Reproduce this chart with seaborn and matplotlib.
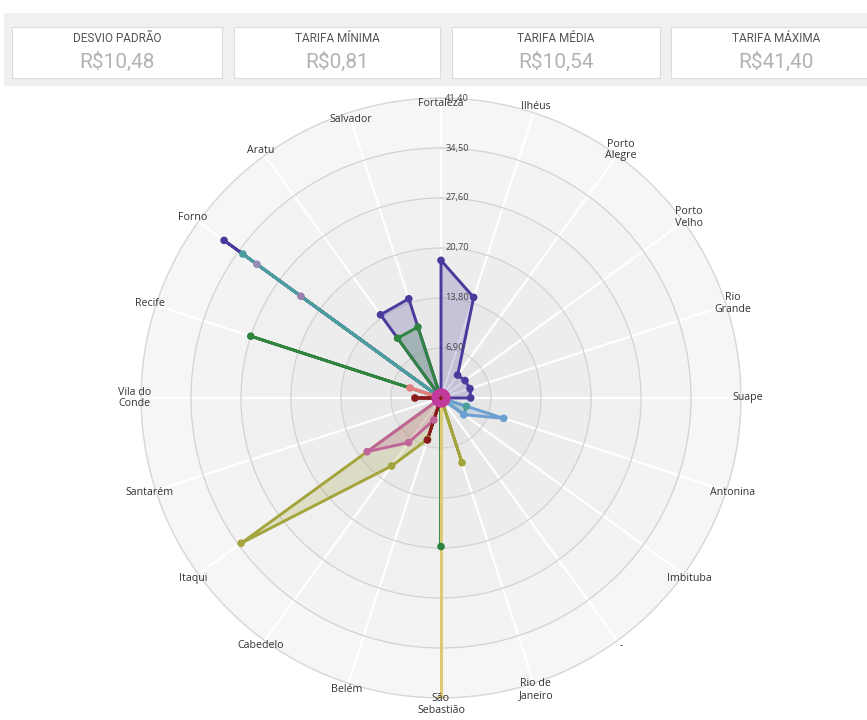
import numpy as np
import pandas as pd
import matplotlib
matplotlib.use("Agg")
import matplotlib.pyplot as plt
from matplotlib.patches import Rectangle
import seaborn as sns

sns.set_theme(style="white")
plt.rcParams["font.family"] = ["Open Sans", "DejaVu Sans"]

# portos (eixos do radar), no sentido horario a partir do topo
categories = ["Fortaleza", "Ilhéus", "Porto\nAlegre", "Porto\nVelho", "Rio\nGrande", "Suape",
              "Antonina", "Imbituba", "-", "Rio de\nJaneiro", "São\nSebastião", "Belém",
              "Cabedelo", "Itaqui", "Santarém", "Vila do\nConde", "Recife", "Forno",
              "Aratu", "Salvador"]

# tarifas (R$), uma lista por serie
s_olive = [0, 0, 0, 0, 0, 0, 0, 0, 0, 9.4, 0, 6.0, 11.6, 34.1, 0, 0, 0, 0, 0, 0]
s_pink = [0, 0, 0, 0, 0, 0, 0, 0, 0, 0, 0, 3.2, 7.6, 12.6, 0, 0, 0, 0, 0, 0]
s_mauve = [0, 0, 0, 0, 0, 0, 0, 0, 0, 0, 0, 0, 0, 0, 0, 0, 0, 31.4, 0, 0]
s_mauve2 = [0, 0, 0, 0, 0, 0, 0, 0, 0, 0, 0, 0, 0, 0, 0, 0, 0, 23.9, 0, 0]
s_indigo_forno = [0, 0, 0, 0, 0, 0, 0, 0, 0, 0, 0, 0, 0, 0, 0, 0, 0, 37.0, 0, 0]
s_teal = [0, 0, 0, 0, 0, 0, 3.7, 3.9, 0, 0, 0, 0, 0, 0, 0, 0, 0, 33.8, 0, 0]
s_lightblue = [0, 0, 0, 0, 0, 0, 9.1, 3.9, 0, 0, 0, 0, 0, 0, 0, 0, 0, 0, 0, 0]
s_indigo_norte = [19.0, 14.6, 3.9, 4.1, 4.2, 4.1, 0, 0, 0, 0, 0, 0, 0, 0, 0, 0, 0, 0, 0, 0]
s_indigo_bahia = [0, 0, 0, 0, 0, 0, 0, 0, 0, 0, 0, 0, 0, 0, 0, 0, 0, 0, 14.2, 14.4]
s_green = [0, 0, 0, 0, 0, 0, 0, 0, 0, 0, 20.5, 0, 0, 0, 0, 0, 27.6, 0, 10.2, 10.3]
s_khaki = [0, 0, 0, 0, 0, 0, 0, 0, 0, 0, 41.40, 0, 0, 0, 0, 0, 0, 0, 0, 0]
s_salmon = [0, 0, 0, 0, 0, 0, 0, 0, 0, 0, 0, 0, 0, 0, 0, 0, 4.5, 0, 0, 0]
s_maroon = [0, 0, 0, 0, 0, 0, 0, 0, 0, 0, 0, 6.1, 0, 0, 0, 3.6, 0, 0, 0, 0]
s_magenta = [0.81, 0.81, 0.81, 0.81, 0.81, 0.81, 0.81, 0.81, 0.81, 0.81,
             0.81, 0.81, 0.81, 0.81, 0.81, 0.81, 0.81, 0.81, 0.81, 0.81]

# cartoes do topo
kpi_titles = ["DESVIO PADRÃO", "TARIFA MÍNIMA", "TARIFA MÉDIA", "TARIFA MÁXIMA"]
kpi_values = ["R$10,48", "R$0,81", "R$10,54", "R$41,40"]

ring_values = [6.90, 13.80, 20.70, 27.60, 34.50, 41.40]
ring_labels = ["6,90", "13,80", "20,70", "27,60", "34,50", "41,40"]

series = {
    "olive": s_olive, "pink": s_pink, "mauve": s_mauve, "mauve2": s_mauve2,
    "indigo_forno": s_indigo_forno, "teal": s_teal, "lightblue": s_lightblue,
    "indigo_norte": s_indigo_norte, "indigo_bahia": s_indigo_bahia, "green": s_green,
    "khaki": s_khaki, "salmon": s_salmon, "maroon": s_maroon, "magenta": s_magenta,
}
palette = {
    "khaki": "#dccb72", "olive": "#a4a43c", "pink": "#c0659a", "mauve": "#9a88b6",
    "mauve2": "#9a7fae", "indigo_forno": "#4b3a9c", "teal": "#4a9e9c",
    "lightblue": "#6e9fd2", "indigo_norte": "#4b3a9c", "indigo_bahia": "#4b3a9c",
    "green": "#2f8440", "salmon": "#e07d7d", "maroon": "#8a1c1c", "magenta": "#c23b9c",
}

theta = np.linspace(0, 2 * np.pi, len(categories), endpoint=False)

rows = []
for name, vals in series.items():
    for t, v in zip(list(theta) + [theta[0]], list(vals) + [vals[0]]):
        rows.append({"serie": name, "theta": t, "valor": v})
df = pd.DataFrame(rows)
pts = df[df["valor"] > 0].drop_duplicates()

fig = plt.figure(figsize=(8.67, 7.2), dpi=100)

# faixa dos cartoes
fig.patches.append(Rectangle((0.005, 0.8806), 0.995, 0.1014, transform=fig.transFigure,
                             facecolor="#f0f0f0", edgecolor="none", zorder=0))
card_x = [12, 234, 452, 671]
card_w = [210, 206, 208, 210]
for x0, w, title, val in zip(card_x, card_w, kpi_titles, kpi_values):
    fig.patches.append(Rectangle((x0 / 867, 0.8917), w / 867, 0.0708, transform=fig.transFigure,
                                 facecolor="white", edgecolor="#dcdcdc", lw=0.8, zorder=1))
    cx = (x0 + w / 2) / 867
    fig.text(cx, 1 - 38 / 720, title, ha="center", va="center", fontsize=8.5,
             color="#555555", family=["Roboto", "DejaVu Sans"], zorder=2)
    fig.text(cx, 1 - 62 / 720, val, ha="center", va="center", fontsize=15,
             color="#b3b3b3", family=["Roboto", "DejaVu Sans"], zorder=2)

ax = fig.add_axes([141 / 867, 22 / 720, 600 / 867, 600 / 720], projection="polar")
ax.set_theta_zero_location("N")
ax.set_theta_direction(-1)
ax.set_ylim(0, 41.4)
ax.set_facecolor("white")

# faixas concentricas de fundo
band_colors = ["#e5e5e5", "#e9e9e9", "#ededed", "#f0f0f0", "#f3f3f3", "#f6f6f6"]
lo = 0
for r, c in zip(ring_values, band_colors):
    ax.bar(0, r - lo, width=2 * np.pi, bottom=lo, color=c, edgecolor="none", zorder=0.1)
    lo = r

ax.set_xticks(theta)
ax.set_xticklabels([])
ax.set_yticks(ring_values)
ax.set_yticklabels([])
ax.set_axisbelow(True)
ax.xaxis.grid(True, color="white", lw=1.6)
ax.yaxis.grid(True, color="#d2d2d2", lw=0.9)
ax.spines["polar"].set_color("#d8d8d8")
ax.spines["polar"].set_linewidth(0.9)

order = list(series.keys())
for name in order:
    sub = df[df["serie"] == name]
    ax.fill(sub["theta"], sub["valor"], color=palette[name], alpha=0.22, lw=0, zorder=2)

sns.lineplot(data=df, x="theta", y="valor", hue="serie", hue_order=order, palette=palette,
             sort=False, estimator=None, lw=2.1, legend=False, ax=ax, zorder=3)
sns.scatterplot(data=pts, x="theta", y="valor", hue="serie", hue_order=order, palette=palette,
                s=30, edgecolor="none", legend=False, ax=ax, zorder=4)
ax.set_xlabel("")
ax.set_ylabel("")

# rotulos dos portos
for t, lab in zip(theta, categories):
    rr = 42.3
    if lab == "Fortaleza":
        rr = 40.6
    elif lab == "Salvador":
        rr = 40.4
    ax.text(t, rr, lab, ha="center", va="center", fontsize=7.7, color="#333333",
            linespacing=1.1, zorder=6)

# rotulos dos aneis
for r, lab in zip(ring_values, ring_labels):
    ax.annotate(lab, xy=(0, r), xytext=(3, 0), textcoords="offset points", ha="left",
                va="center", fontsize=6.7, color="#444444", zorder=6)

fig.savefig("out.png", dpi=100, facecolor="white")
